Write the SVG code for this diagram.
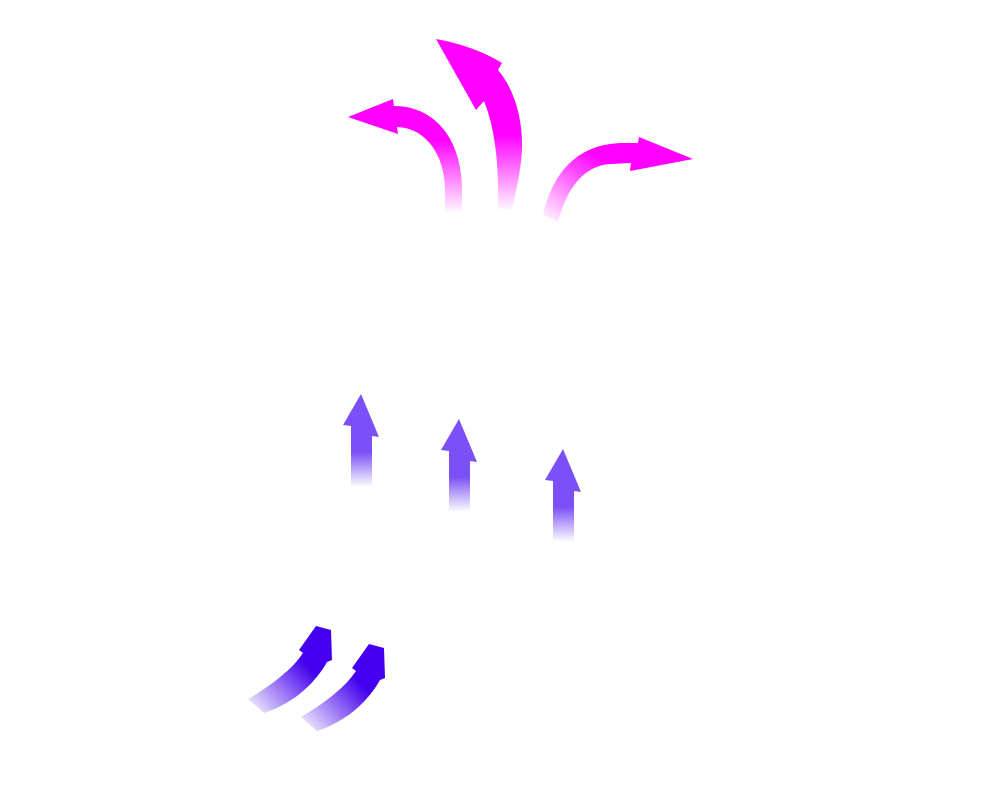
<svg xmlns="http://www.w3.org/2000/svg" width="983" height="800" viewBox="0 0 983 800">
  <defs>
    <linearGradient id="gL" gradientUnits="userSpaceOnUse" x1="0" y1="214" x2="0" y2="140">
      <stop offset="0" stop-color="#ff00ff" stop-opacity="0"/>
      <stop offset="1" stop-color="#ff00ff" stop-opacity="1"/>
    </linearGradient>
    <linearGradient id="gM" gradientUnits="userSpaceOnUse" x1="0" y1="212" x2="0" y2="135">
      <stop offset="0" stop-color="#ff00ff" stop-opacity="0"/>
      <stop offset="1" stop-color="#ff00ff" stop-opacity="1"/>
    </linearGradient>
    <linearGradient id="gR" gradientUnits="userSpaceOnUse" x1="546" y1="224" x2="590" y2="152">
      <stop offset="0" stop-color="#ff00ff" stop-opacity="0"/>
      <stop offset="1" stop-color="#ff00ff" stop-opacity="1"/>
    </linearGradient>
    <linearGradient id="gP" gradientUnits="userSpaceOnUse" x1="0" y1="93" x2="0" y2="58">
      <stop offset="0" stop-color="#7b50f6" stop-opacity="0"/>
      <stop offset="1" stop-color="#7b50f6" stop-opacity="1"/>
    </linearGradient>
    <linearGradient id="gB" gradientUnits="userSpaceOnUse" x1="250" y1="716" x2="306" y2="664">
      <stop offset="0" stop-color="#4400ee" stop-opacity="0"/>
      <stop offset="1" stop-color="#4400ee" stop-opacity="1"/>
    </linearGradient>
    <path id="pArrow" d="M 0,0 L 18,43 L 11,42 L 11,93 L -10,93 L -10,32 L -18,31 Z"/>
    <path id="bArrow" d="M 248,699 C 270,686 292,670 303,653 L 299,650 L 316,626 L 331,630 L 332,660 L 327,662 C 317,680 296,703 264,713 Z"/>
  </defs>

  <g id="outflow-arrows">
    <path id="out-left" fill="url(#gL)" d="M 445,212 L 445,190 C 445,155 426,128 397,127 L 398,134 L 348,117 L 393,99 L 394,106 C 432,106 460,135 462,185 L 462,212 Z"/>
    <path id="out-middle" fill="url(#gM)" d="M 498,209 C 499,170 496,130 484,101 L 476,110 L 436,39 C 460,43 485,52 502,63 L 498,70 C 515,90 523,120 522,150 C 521,170 516,192 512,209 Z"/>
    <path id="out-right" fill="url(#gR)" d="M 543,215 C 552,175 575,145 620,143 L 638,143 L 639,137 L 693,159 L 630,171 L 631,163 L 610,164 C 585,166 568,185 558,222 Z"/>
  </g>

  <g id="rising-arrows" fill="url(#gP)">
    <use href="#pArrow" transform="translate(361,394)"/>
    <use href="#pArrow" transform="translate(459,419)"/>
    <use href="#pArrow" transform="translate(563,449)"/>
  </g>

  <g id="inflow-arrows" fill="url(#gB)">
    <use href="#bArrow"/>
    <use href="#bArrow" transform="translate(53,18)"/>
  </g>
</svg>
